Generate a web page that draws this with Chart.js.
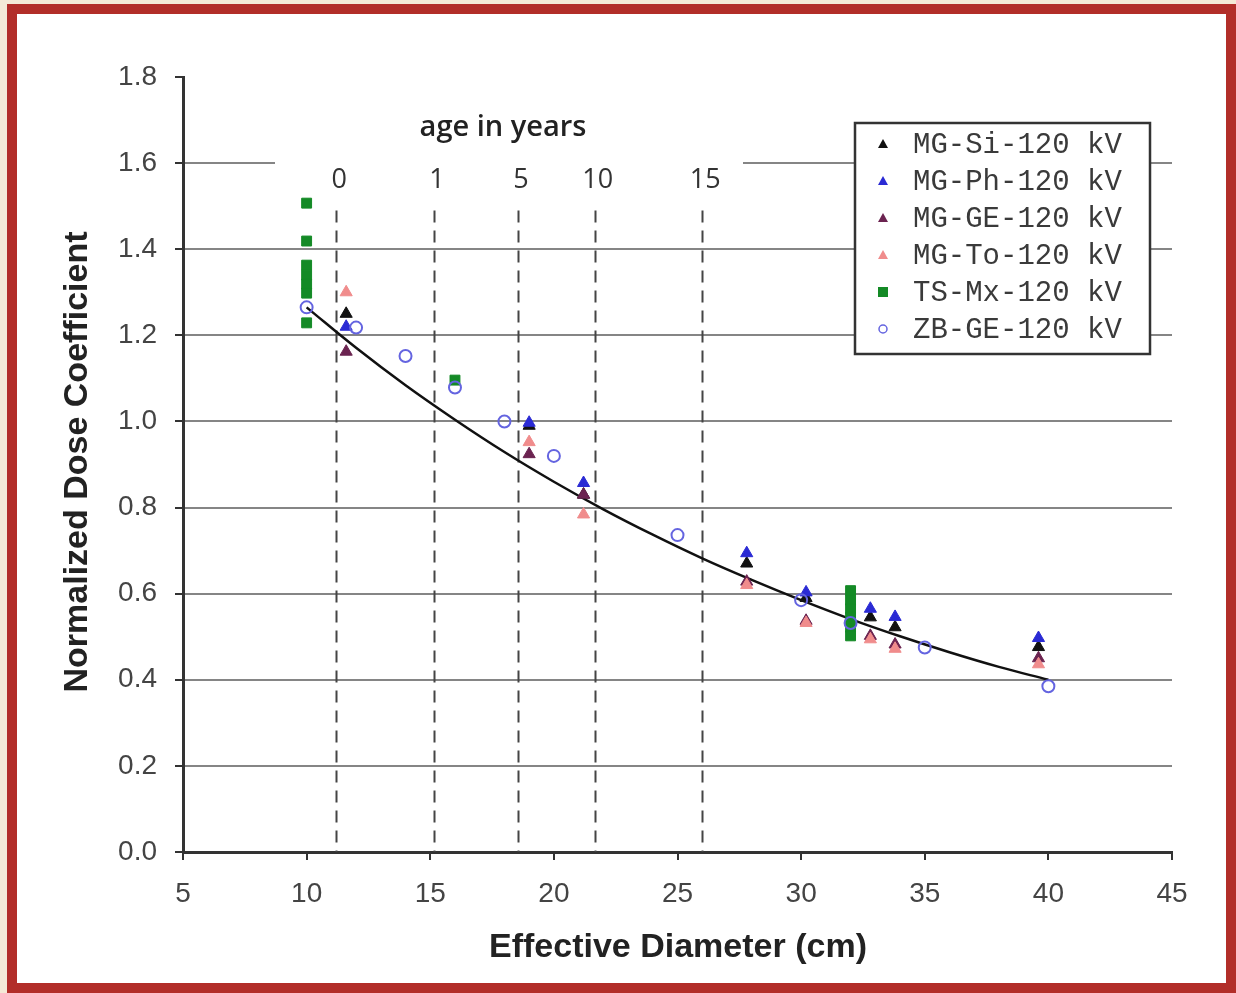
<!DOCTYPE html>
<html lang="en">
<head>
  <meta charset="UTF-8">
  <title>Normalized Dose Coefficient vs Effective Diameter</title>
  <script src="https://cdn.jsdelivr.net/npm/chart.js"></script>
  <style>
    html, body { margin: 0; padding: 0; }
    body { width: 1236px; height: 993px; background: #f4ead7; position: relative; overflow: hidden; }
    .frame {
      position: absolute; left: 7px; top: 4px; width: 1229px; height: 989px;
      box-sizing: border-box; border: 10px solid #b22e29; background: #fff;
    }
    #chart { position: absolute; left: 0; top: 0; }
  </style>
</head>
<body>
<div class="frame"></div>
<canvas id="chart" width="1236" height="993"></canvas>

<script>
// tick values
const xTicks = [5, 10, 15, 20, 25, 30, 35, 40, 45];
const yTicks = [0, 0.2, 0.4, 0.6, 0.8, 1.0, 1.2, 1.4, 1.6, 1.8];

// age markers (effective diameter where each age sits)
const ageLabels = ['0', '1', '5', '10', '15'];
const ageDiam = [11.2, 15.15, 18.55, 21.65, 26.0];

// MG phantoms share the same diameters
const mgDiam = [11.6, 19.0, 21.2, 27.8, 30.2, 32.8, 33.8, 39.6];
const mgSi = [1.25, 0.99, 0.83, 0.67, 0.59, 0.545, 0.522, 0.476];
const mgPh = [1.22, 0.997, 0.857, 0.694, 0.603, 0.565, 0.546, 0.497];
const mgGE = [1.162, 0.924, 0.83, 0.628, 0.537, 0.502, 0.482, 0.45];
const mgTo = [1.30, 0.952, 0.784, 0.62, 0.532, 0.494, 0.472, 0.436];

const tsDiam = [10, 10, 10, 10, 10, 10, 10, 16, 32, 32, 32, 32, 32, 32];
const tsMx = [1.507, 1.419, 1.363, 1.34, 1.319, 1.298, 1.229, 1.096, 0.607, 0.585, 0.565, 0.545, 0.522, 0.502];

const zbDiam = [10, 12, 14, 16, 18, 20, 25, 30, 32, 35, 40];
const zbGE = [1.265, 1.218, 1.152, 1.079, 1.0, 0.92, 0.736, 0.585, 0.532, 0.475, 0.385];

// fitted curve
const fitDiam = [10, 12, 14, 16, 18, 20, 22, 24, 26, 28, 30, 32, 34, 36, 38, 40];
const fitVal = [1.265, 1.171, 1.084, 1.004, 0.929, 0.86, 0.796, 0.737, 0.682, 0.632, 0.585, 0.541, 0.501, 0.464, 0.43, 0.40];

const pts = (xs, ys) => xs.map((x, i) => ({ x: x, y: ys[i] }));

const series = [
  { label: 'MG-Si-120 kV', data: pts(mgDiam, mgSi), color: '#111111', style: 'triangle', fill: true },
  { label: 'MG-Ph-120 kV', data: pts(mgDiam, mgPh), color: '#2a2ad4', style: 'triangle', fill: true },
  { label: 'MG-GE-120 kV', data: pts(mgDiam, mgGE), color: '#6b2350', style: 'triangle', fill: true },
  { label: 'MG-To-120 kV', data: pts(mgDiam, mgTo), color: '#f08c8c', style: 'triangle', fill: true },
  { label: 'TS-Mx-120 kV', data: pts(tsDiam, tsMx), color: '#148a26', style: 'rect', fill: true },
  { label: 'ZB-GE-120 kV', data: pts(zbDiam, zbGE), color: '#6464e0', style: 'circle', fill: false }
];

const datasets = series.map((s, i) => ({
  label: s.label,
  data: s.data,
  pointStyle: s.style,
  pointRadius: s.style === 'circle' ? 6 : 7,
  pointBorderWidth: s.fill ? 1 : 2,
  pointBorderColor: s.color,
  pointBackgroundColor: s.fill ? s.color : 'rgba(255,255,255,0)',
  showLine: false,
  order: 6 - i
}));

datasets.push({
  label: 'fit',
  data: pts(fitDiam, fitVal),
  showLine: true,
  borderColor: '#111',
  borderWidth: 2.5,
  pointRadius: 0,
  tension: 0.4,
  order: 20
});

const overlay = {
  id: 'overlay',
  beforeDatasetsDraw(chart) {
    const c = chart.ctx, xs = chart.scales.x, ys = chart.scales.y;
    // gap in the 1.6 gridline under the age heading
    const y16 = ys.getPixelForValue(1.6);
    c.save();
    c.fillStyle = '#fff';
    c.fillRect(275, y16 - 3, 468, 6);
    // dashed age lines
    c.strokeStyle = '#444';
    c.lineWidth = 2;
    c.setLineDash([12, 8]);
    const yTop = ys.getPixelForValue(1.49);
    const yBot = ys.getPixelForValue(0);
    ageDiam.forEach(d => {
      const px = Math.round(xs.getPixelForValue(d)) + 0.5;
      c.beginPath();
      c.moveTo(px, yTop);
      c.lineTo(px, yBot);
      c.stroke();
    });
    c.restore();
  },
  afterDraw(chart) {
    const c = chart.ctx, xs = chart.scales.x;
    c.save();
    // age heading and labels
    c.fillStyle = '#222';
    c.textAlign = 'center';
    c.textBaseline = 'middle';
    c.font = '600 29px "Open Sans"';
    c.fillText('age in years', 503, 128);
    c.font = '27px "Open Sans"';
    c.fillStyle = '#333';
    ageDiam.forEach((d, i) => c.fillText(ageLabels[i], xs.getPixelForValue(d) + 3, 180));

    // axis titles
    c.fillStyle = '#222';
    c.font = 'bold 34px "Liberation Sans"';
    c.fillText('Effective Diameter (cm)', 678, 948);
    c.save();
    c.translate(78, 462);
    c.rotate(-Math.PI / 2);
    c.fillText('Normalized Dose Coefficient', 0, 0);
    c.restore();

    // legend box
    const bx = 855, by = 123, bw = 295, bh = 231;
    c.fillStyle = '#fff';
    c.fillRect(bx, by, bw, bh);
    c.strokeStyle = '#333';
    c.lineWidth = 2.5;
    c.strokeRect(bx, by, bw, bh);
    c.font = '29px "Liberation Mono"';
    c.textAlign = 'left';
    series.forEach((s, i) => {
      const cy = 144 + i * 37, mx = 883;
      c.fillStyle = s.color;
      c.strokeStyle = s.color;
      c.lineWidth = 1.5;
      c.beginPath();
      if (s.style === 'triangle') {
        c.moveTo(mx, cy - 5); c.lineTo(mx + 5, cy + 4); c.lineTo(mx - 5, cy + 4); c.closePath(); c.fill();
      } else if (s.style === 'rect') {
        c.fillRect(mx - 5, cy - 5, 10, 10);
      } else {
        c.arc(mx, cy, 4, 0, Math.PI * 2); c.stroke();
      }
      c.fillStyle = '#3a3a3a';
      c.fillText(s.label, 913, cy + 1);
    });
    c.restore();
  }
};

new Chart(document.getElementById('chart'), {
  type: 'scatter',
  data: { datasets: datasets },
  options: {
    responsive: false,
    animation: false,
    layout: { padding: { top: 77, right: 64, left: 0, bottom: 0 } },
    plugins: { legend: { display: false }, tooltip: { enabled: false } },
    scales: {
      x: {
        type: 'linear',
        min: 5, max: 45,
        afterBuildTicks: s => { s.ticks = xTicks.map(v => ({ value: v })); },
        afterFit: s => { s.height = 141; },
        grid: { drawOnChartArea: false, drawTicks: true, tickLength: 8, color: '#333', lineWidth: 2 },
        border: { display: true, color: '#333', width: 3 },
        ticks: { padding: 17, color: '#444', font: { family: 'Liberation Sans', size: 28 } }
      },
      y: {
        type: 'linear',
        min: 0, max: 1.8,
        afterBuildTicks: s => { s.ticks = yTicks.map(v => ({ value: v })); },
        afterFit: s => { s.width = 183; },
        grid: {
          drawTicks: true, tickLength: 8, lineWidth: 2,
          color: ctx => (ctx.tick && ctx.tick.value > 1.7) ? 'rgba(0,0,0,0)' : '#858585',
          tickColor: '#333'
        },
        border: { display: true, color: '#333', width: 3 },
        ticks: {
          padding: 18, color: '#444', font: { family: 'Liberation Sans', size: 28 },
          callback: v => v.toFixed(1)
        }
      }
    }
  },
  plugins: [overlay]
});
</script>
</body>
</html>
